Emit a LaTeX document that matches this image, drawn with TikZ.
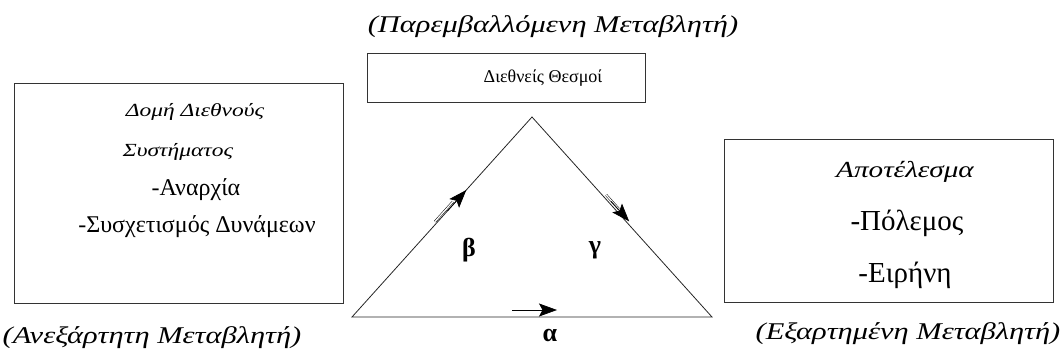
\documentclass[tikz,border=0pt]{standalone}
\usepackage{fontspec}
\setmainfont{Liberation Serif}
\newfontfamily\wideit[FakeStretch=1.27]{Liberation Serif}
\usetikzlibrary{arrows.meta,calc}
\begin{document}
\begin{tikzpicture}[x=1pt,y=-1pt,
  box/.style={draw=black!80,line width=0.9pt,minimum width=#1,inner sep=0pt},
  lbl/.style={inner sep=0pt,font=\fontsize{24}{28}\wideit\itshape},
  litx/.style={inner sep=0pt,font=\fontsize{18.5}{22}\wideit\itshape},
  ltxt/.style={inner sep=0pt,font=\fontsize{24}{28}\selectfont},
  ttxt/.style={inner sep=0pt,font=\fontsize{18}{22}\selectfont},
  ritx/.style={inner sep=0pt,font=\fontsize{23}{27}\wideit\itshape},
  rtxt/.style={inner sep=0pt,font=\fontsize{29}{33}\selectfont},
  greek/.style={inner sep=0pt,font=\fontsize{26}{30}\selectfont\bfseries},
  tri/.style={line width=0.8pt,black!85},
  shaft/.style={double,double distance=1.3pt,line width=0.5pt},
  head/.style={-{Stealth[length=18pt,width=13pt,inset=3.5pt]},line width=0.7pt}]
\useasboundingbox (0,0) rectangle (1061,356);
% boxes
\node[box=329pt,minimum height=220pt] (lbox) at (178.5,193) {};
\node[box=278pt,minimum height=49pt] (tbox) at (506,77.5) {};
\node[box=329pt,minimum height=163pt] (rbox) at (888.5,220.5) {};
% left box text
\node[litx] (l1) at (195,112) {Δομή Διεθνούς};
\node[litx] (l2) at (178,152) {Συστήματος};
\node[ltxt] (l3) at (196,190) {-Αναρχία};
\node[ltxt] (l4) at (197,227) {-Συσχετισμός Δυνάμεων};
% top
\node[lbl] (tl) at (553,27) {(Παρεμβαλλόμενη Μεταβλητή)};
\node[ttxt] (t1) at (543,78) {Διεθνείς Θεσμοί};
% right box text
\node[ritx] (r1) at (905,172) {Αποτέλεσμα};
\node[rtxt] (r2) at (907,223) {-Πόλεμος};
\node[rtxt] (r3) at (905,275) {-Ειρήνη};
% bottom labels
\node[lbl] (bl) at (152,338) {(Ανεξάρτητη Μεταβλητή)};
\node[lbl] (br) at (908,334) {(Εξαρτημένη Μεταβλητή)};
% triangle
\coordinate (A) at (352,317);
\coordinate (B) at (532,117);
\coordinate (C) at (712,317);
\draw[tri] (A) -- (B) -- (C) -- cycle;
% greek labels
\node[greek] (beta) at (469,250) {β};
\node[greek] (gamma) at (595,250) {γ};
\node[greek] (alpha) at (550,335) {α};
% left arrow
\coordinate (ls) at ($(A)!0.47!(B)+(-1.6,-1.4)$);
\coordinate (lm) at ($(A)!0.57!(B)+(-1.6,-1.4)$);
\coordinate (lh) at ($(A)!0.53!(B)$);
\coordinate (lt) at ($(A)!0.635!(B)$);
\draw[shaft] (ls) -- (lm);
\draw[head] (lh) -- (lt);
% right arrow
\coordinate (rs) at ($(B)!0.40!(C)+(2.2,-2.0)$);
\coordinate (rm) at ($(B)!0.47!(C)+(2.2,-2.0)$);
\coordinate (rh) at ($(B)!0.43!(C)+(1.8,-1.6)$);
\coordinate (rt) at ($(B)!0.53!(C)+(1.8,-1.6)$);
\draw[shaft] (rs) -- (rm);
\draw[head] (rh) -- (rt);
% bottom arrow
\coordinate (bs) at (512,310);
\coordinate (bt) at (557,310);
\draw[head] (bs) -- (bt);
\end{tikzpicture}
\end{document}
